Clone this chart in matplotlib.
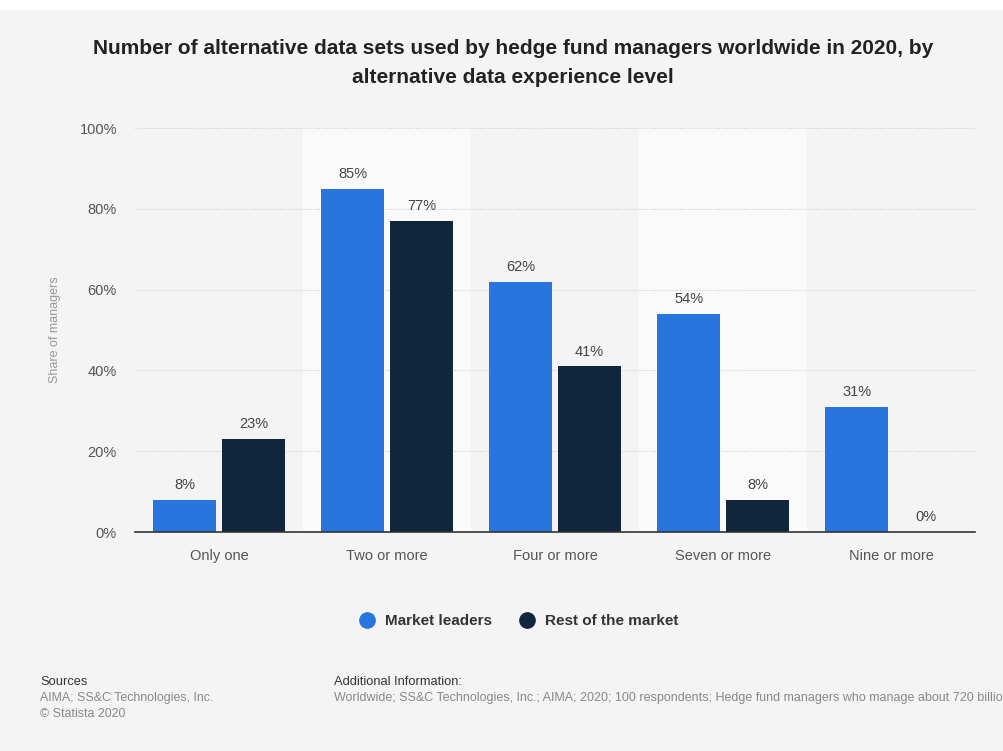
import matplotlib.pyplot as plt
import numpy as np
from matplotlib.patches import Rectangle

plt.rcParams['font.family'] = ['Liberation Sans', 'DejaVu Sans']

categories = ["Only one", "Two or more", "Four or more", "Seven or more", "Nine or more"]
market_leaders = [8, 85, 62, 54, 31]
rest_of_market = [23, 77, 41, 8, 0]
series_names = ["Market leaders", "Rest of the market"]
y_ticks = [0, 20, 40, 60, 80, 100]

blue = '#2876dd'
navy = '#10263d'
bg = '#f4f4f4'

fig = plt.figure(figsize=(10.04, 7.51), dpi=100, facecolor=bg)
# thin white strip along the top edge
fig.patches.append(Rectangle((0, 1 - 10 / 751), 1, 10 / 751, transform=fig.transFigure,
                             facecolor='white', edgecolor='none', zorder=0))

ax = fig.add_axes([135 / 1004, (751 - 532) / 751, 840 / 1004, 404 / 751])
ax.set_facecolor(bg)

x = np.arange(len(categories))
width = 0.375
offset = 0.205

# lighter bands behind every second category
for i in x:
    if i % 2 == 1:
        ax.axvspan(i - 0.5, i + 0.5, color='#fafafa', zorder=0, lw=0)

bars1 = ax.bar(x - offset, market_leaders, width, color=blue, zorder=3, label=series_names[0])
bars2 = ax.bar(x + offset, rest_of_market, width, color=navy, zorder=3, label=series_names[1])

for bars, vals in ((bars1, market_leaders), (bars2, rest_of_market)):
    for b, v in zip(bars, vals):
        ax.annotate(f"{v}%", (b.get_x() + b.get_width() / 2, v), xytext=(0, 5.5),
                    textcoords='offset points', ha='center', va='bottom',
                    fontsize=10.5, color='#444444', zorder=4)

ax.set_xlim(-0.5, len(categories) - 0.5)
ax.set_ylim(0, 100)
ax.set_yticks(y_ticks)
ax.set_yticklabels([f"{t}%" for t in y_ticks])
ax.set_xticks(x)
ax.set_xticklabels(categories)
for t in y_ticks[1:]:
    ax.axhline(t, color='#cccccc', lw=0.8, ls=(0, (1, 1.5)), zorder=1)

ax.tick_params(axis='both', length=0, labelsize=10.5, labelcolor='#555555')
ax.tick_params(axis='x', pad=12)
ax.tick_params(axis='y', pad=13)
for s in ('top', 'right', 'left'):
    ax.spines[s].set_visible(False)
ax.spines['bottom'].set_color('#333333')
ax.spines['bottom'].set_linewidth(1.2)
ax.spines['bottom'].set_zorder(5)

ax.set_ylabel("Share of managers", fontsize=9, color='#999999')
ax.yaxis.set_label_coords(-0.088, 0.5)

fig.text(0.511, 1 - 63 / 751,
         "Number of alternative data sets used by hedge fund managers worldwide in 2020, by\nalternative data experience level",
         ha='center', va='center', fontsize=15, fontweight='bold', color='#222222', linespacing=1.65)

# legend
handles = [plt.Line2D([], [], marker='o', ls='none', color=c, markersize=11) for c in (blue, navy)]
fig.legend(handles, series_names, loc='center', bbox_to_anchor=(515 / 1004, 1 - 621 / 751),
           ncol=2, frameon=False, handletextpad=0.15, columnspacing=1.3,
           prop={'weight': 'bold', 'size': 11})
for txt in fig.legends[0].get_texts():
    txt.set_color('#333333')

# footer
fig.text(40 / 1004, 1 - 682 / 751, "Sources", fontsize=9.3, color='#333333', va='center')
fig.text(40 / 1004, 1 - 698 / 751, "AIMA; SS&C Technologies, Inc.", fontsize=8.9, color='#888888', va='center')
fig.text(40 / 1004, 1 - 714 / 751, "© Statista 2020", fontsize=8.9, color='#888888', va='center')
fig.text(334 / 1004, 1 - 682 / 751, "Additional Information:", fontsize=9.3, color='#333333', va='center')
fig.text(334 / 1004, 1 - 698 / 751,
         "Worldwide; SS&C Technologies, Inc.; AIMA; 2020; 100 respondents; Hedge fund managers who manage about 720 billion U.S. dollars",
         fontsize=9.0, color='#888888', va='center')

fig.savefig("out.png", dpi=100, facecolor=bg)
